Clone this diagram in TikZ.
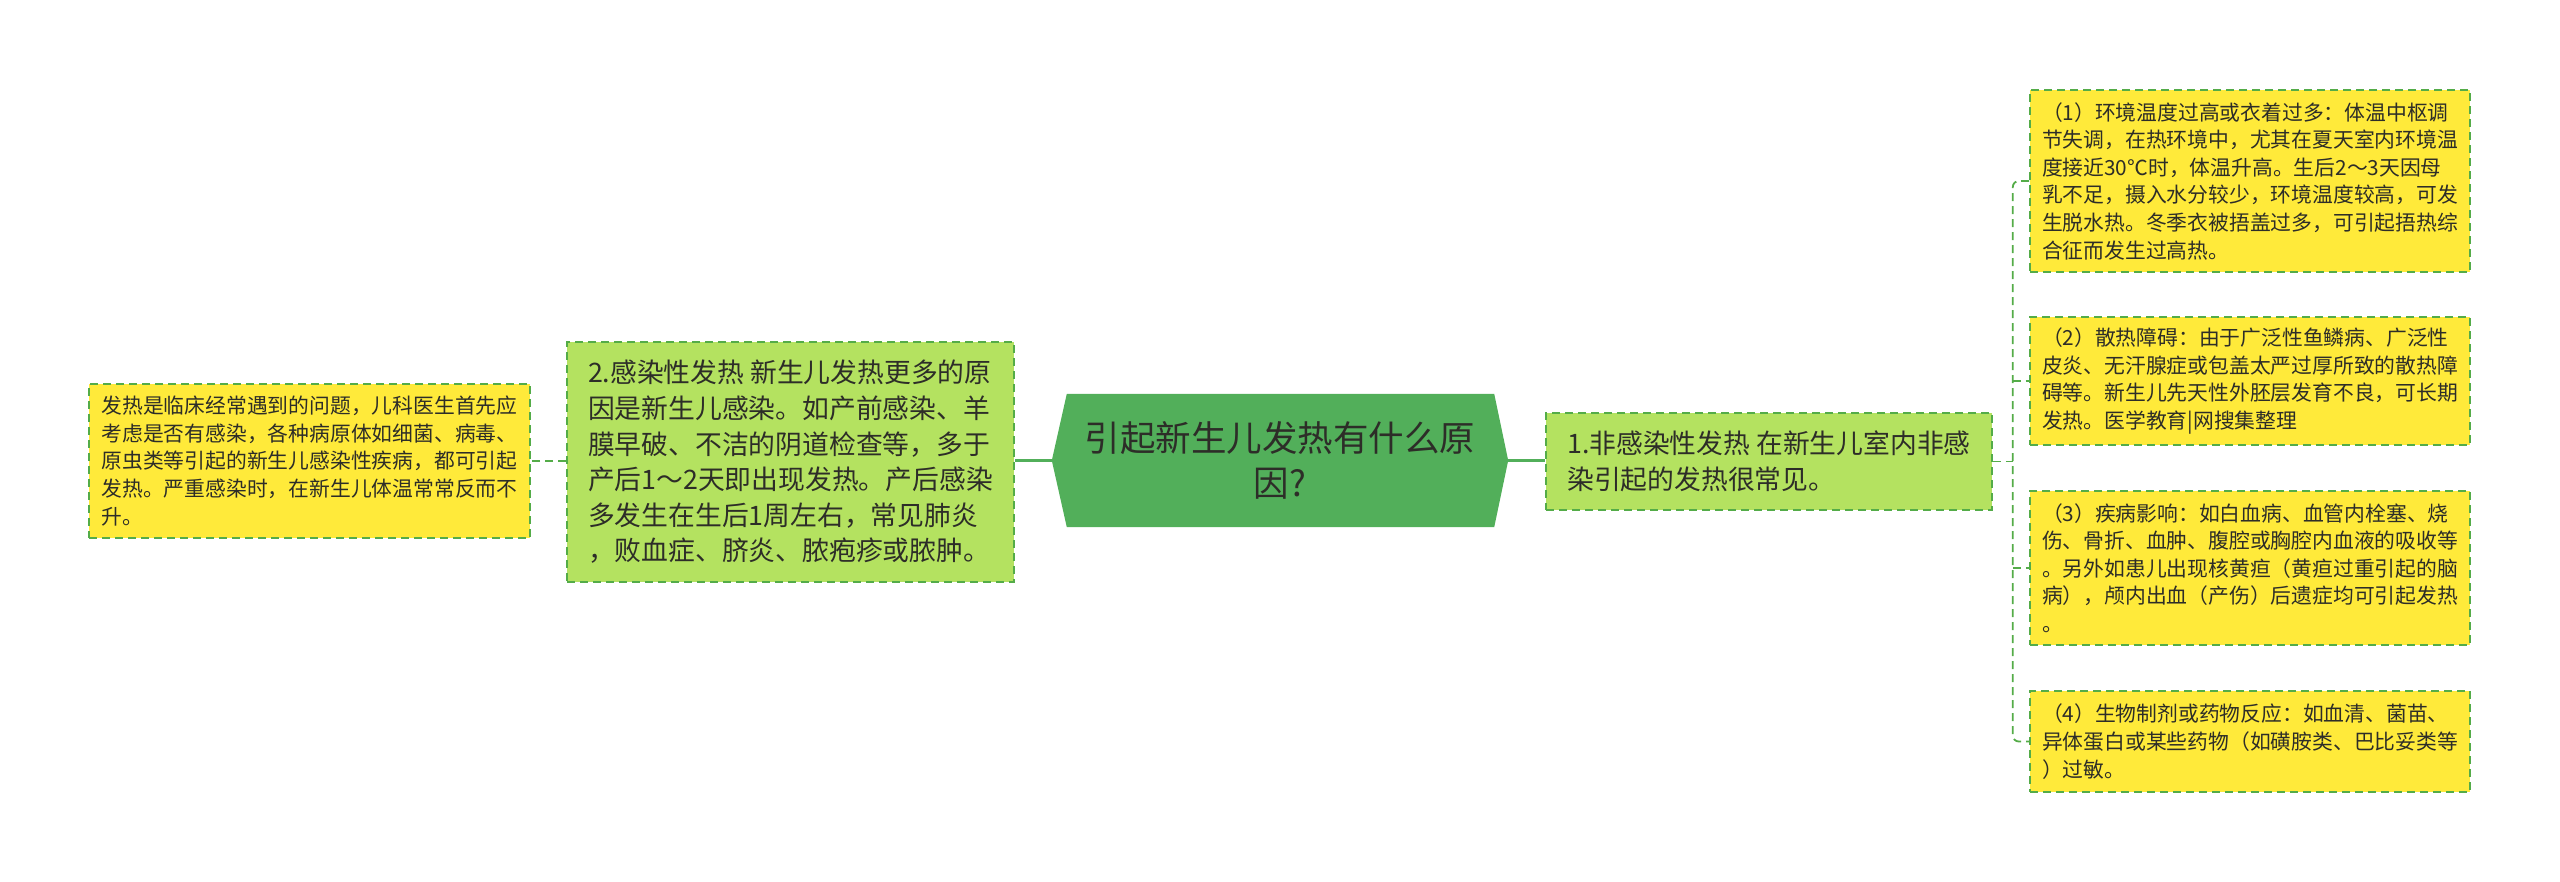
\documentclass[tikz,border=0pt]{standalone}
\usepackage{fontspec}
\setmainfont{Noto Sans CJK SC}
\usetikzlibrary{backgrounds}
\definecolor{bordergreen}{RGB}{84,172,72}
\definecolor{rootgreen}{RGB}{82,175,90}
\definecolor{lightgreen}{RGB}{180,226,96}
\definecolor{yellowbox}{RGB}{255,234,58}
\definecolor{textdark}{RGB}{45,45,40}
\tikzset{
  boxbase/.style={rectangle, draw=bordergreen, line width=1.6pt, dash pattern=on 8pt off 5pt, inner sep=0pt, align=left, text=textdark},
  smallbox/.style={boxbase, fill=yellowbox, font=\fontsize{20.8pt}{27.6pt}\selectfont},
  midbox/.style={boxbase, fill=lightgreen, font=\fontsize{26.8pt}{35.6pt}\selectfont},
  rootnode/.style={rectangle, inner sep=0pt, align=center, text=textdark, font=\fontsize{35.5pt}{45pt}\selectfont},
  conn/.style={draw=bordergreen, line width=1.8pt, dash pattern=on 8pt off 5pt},
  rootconn/.style={draw=rootgreen, line width=3pt}
}
\begin{document}
\begin{tikzpicture}[x=1pt,y=-1pt]
\useasboundingbox (0,0) rectangle (2560,882);

\node[rootnode, minimum width=456pt, minimum height=133pt] (root) at (1280,460.5)
  {引起新生儿发热有什么原\\因?};
\begin{pgfonlayer}{background}
\fill[rootgreen] (root.west) -- ([xshift=15pt]root.north west) -- ([xshift=-14pt]root.north east)
  -- (root.east) -- ([xshift=-14pt]root.south east) -- ([xshift=15pt]root.south west) -- cycle;
\end{pgfonlayer}

\node[midbox, minimum width=447pt, minimum height=240pt] (inf) at (790.5,462)
  {2.感染性发热 新生儿发热更多的原\\因是新生儿感染。如产前感染、羊\\膜早破、不洁的阴道检查等，多于\\产后1～2天即出现发热。产后感染\\多发生在生后1周左右，常见肺炎\\，败血症、脐炎、脓疱疹或脓肿。};

\node[smallbox, minimum width=441pt, minimum height=154pt] (infd) at (309.5,461)
  {发热是临床经常遇到的问题，儿科医生首先应\\考虑是否有感染，各种病原体如细菌、病毒、\\原虫类等引起的新生儿感染性疾病，都可引起\\发热。严重感染时，在新生儿体温常常反而不\\升。};

\node[midbox, minimum width=446pt, minimum height=97pt] (non) at (1769,461.5)
  {1.非感染性发热 在新生儿室内非感\\染引起的发热很常见。};

\node[smallbox, minimum width=440pt, minimum height=182pt] (r1) at (2250,181)
  {（1）环境温度过高或衣着过多：体温中枢调\\节失调，在热环境中，尤其在夏天室内环境温\\度接近30℃时，体温升高。生后2～3天因母\\乳不足，摄入水分较少，环境温度较高，可发\\生脱水热。冬季衣被捂盖过多，可引起捂热综\\合征而发生过高热。};

\node[smallbox, minimum width=440pt, minimum height=128pt] (r2) at (2250,381)
  {（2）散热障碍：由于广泛性鱼鳞病、广泛性\\皮炎、无汗腺症或包盖太严过厚所致的散热障\\碍等。新生儿先天性外胚层发育不良，可长期\\发热。医学教育|网搜集整理};

\node[smallbox, minimum width=440pt, minimum height=154pt] (r3) at (2250,568)
  {（3）疾病影响：如白血病、血管内栓塞、烧\\伤、骨折、血肿、腹腔或胸腔内血液的吸收等\\。另外如患儿出现核黄疸（黄疸过重引起的脑\\病），颅内出血（产伤）后遗症均可引起发热\\。};

\node[smallbox, minimum width=440pt, minimum height=101pt] (r4) at (2250,741.5)
  {（4）生物制剂或药物反应：如血清、菌苗、\\异体蛋白或某些药物（如磺胺类、巴比妥类等\\）过敏。};

% connectors
\begin{pgfonlayer}{background}
\draw[rootconn] (root.west) -- (root.west -| inf.east);
\draw[rootconn] (root.east) -- (root.east -| non.west);
\draw[conn] (inf.west |- infd.east) -- (infd.east);
\coordinate (j) at ([xshift=20pt]non.east);
\draw[conn] (non.east) -- (j);
\draw[conn, rounded corners=6pt] (r1.west) -| (j) |- (r4.west);
\draw[conn] (j |- r2.west) -- (r2.west);
\draw[conn] (j |- r3.west) -- (r3.west);
\end{pgfonlayer}
\end{tikzpicture}
\end{document}
